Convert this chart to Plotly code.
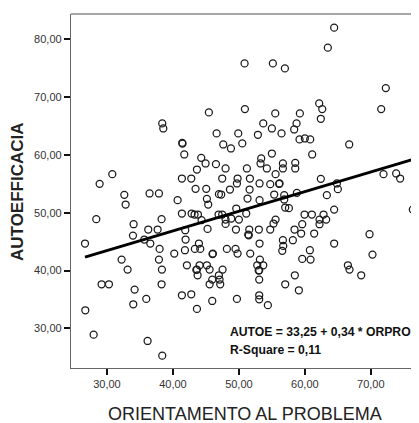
import plotly.graph_objects as go

# ORIENTAMENTO AL PROBLEMA (x) and AUTOEFFICACIA (y)
orpro = [64.44, 63.48, 50.86, 55.15, 56.97, 72.27, 50.91, 45.45, 55.51, 62.17,
         62.63, 71.57, 59.24, 62.42, 38.38, 38.54, 53.69, 55.00, 58.74, 58.38,
         46.62, 49.90, 52.88, 56.46, 50.51, 47.63, 48.79, 41.41, 41.45, 41.72,
         59.19, 60.00, 60.81, 66.72, 55.00, 61.11, 44.29, 44.95, 46.52, 53.38,
         53.28, 56.67, 56.67, 58.54, 58.54, 51.21, 54.24, 43.64, 47.98, 71.92,
         73.84, 74.44, 55.56, 41.36, 42.78, 47.47, 49.80, 51.67, 53.13, 49.70,
         54.75, 56.16, 56.10, 62.42, 64.85, 65.00, 28.89, 30.81, 43.43, 45.05,
         46.97, 47.32, 51.62, 48.64, 32.63, 32.83, 36.46, 37.88, 40.71, 45.15,
         45.35, 51.31, 53.13, 56.87, 56.87, 58.79, 63.33, 55.35, 76.36, 64.44,
         57.02, 57.58, 59.95, 61.06, 62.83, 62.22, 63.23, 62.22, 28.38, 38.28,
         41.36, 42.83, 43.28, 43.79, 44.34, 46.92, 47.47, 47.98, 49.60, 50.00,
         51.11, 48.84, 45.25, 47.98, 51.57, 53.03, 49.55, 54.75, 55.25, 55.56,
         58.43, 59.60, 59.44, 61.41, 41.87, 51.41, 51.50, 34.04, 33.94, 35.66,
         36.26, 37.68, 36.57, 41.92, 43.94, 43.33, 44.14, 37.98, 48.18, 49.49,
         49.80, 41.82, 40.20, 46.06, 46.00, 51.72, 53.13, 56.67, 56.72, 56.57,
         58.18, 60.76, 64.44, 69.80, 70.25, 26.67, 32.22, 33.13, 37.88, 38.33,
         42.12, 43.64, 43.55, 44.04, 43.74, 45.15, 45.56, 47.53, 46.97, 45.96,
         45.56, 47.07, 47.17, 52.78, 53.18, 53.69, 53.08, 53.00, 53.08, 59.60,
         60.86, 58.48, 66.52, 66.77, 68.54, 29.19, 30.30, 38.28, 34.19, 33.99,
         35.96, 41.36, 42.78, 45.96, 49.70, 53.08, 53.08, 54.39, 43.64, 57.02,
         59.09, 26.72, 27.98, 36.16, 38.38]
autoe = [82.02, 78.56, 75.84, 75.84, 74.98, 71.57, 67.93, 67.36, 67.18, 68.91,
         67.93, 67.93, 67.18, 66.26, 65.45, 64.58, 65.45, 64.58, 65.45, 64.41,
         63.72, 63.72, 63.49, 63.72, 61.99, 61.81, 61.12, 62.10, 61.95, 60.08,
         62.68, 62.85, 62.68, 61.81, 60.25, 60.08, 59.50, 58.52, 58.41, 59.39,
         58.52, 58.52, 57.66, 58.64, 57.66, 57.66, 57.66, 57.48, 57.66, 56.67,
         56.79, 55.92, 56.67, 55.92, 55.92, 55.92, 55.92, 55.92, 55.06, 55.06,
         54.94, 55.06, 55.00, 55.87, 55.06, 54.08, 55.00, 56.67, 54.13, 54.13,
         53.21, 53.15, 54.02, 54.02, 53.09, 51.42, 53.33, 53.33, 52.17, 52.40,
         51.42, 52.46, 52.17, 53.04, 52.29, 53.44, 53.04, 53.15, 50.55, 50.55,
         50.90, 50.79, 49.69, 49.69, 49.69, 48.82, 48.82, 48.01, 48.88, 48.88,
         49.86, 49.86, 49.69, 49.69, 48.71, 49.69, 49.69, 48.82, 50.73, 48.82,
         49.86, 49.00, 47.20, 48.07, 47.09, 47.09, 47.09, 47.09, 48.13, 48.82,
         47.09, 48.01, 46.40, 46.40, 46.97, 46.22, 46.10, 48.01, 46.05, 45.36,
         47.09, 47.09, 44.67, 45.36, 44.67, 43.74, 43.74, 43.74, 43.74, 43.74,
         42.93, 43.51, 42.93, 42.93, 42.85, 42.93, 44.67, 45.24, 44.26, 43.40,
         45.24, 43.51, 44.67, 46.28, 42.76, 44.67, 41.89, 40.16, 41.89, 40.16,
         40.91, 40.16, 40.10, 40.91, 39.18, 40.91, 40.16, 40.16, 39.18, 38.43,
         37.62, 38.43, 37.62, 40.91, 41.89, 40.91, 40.05, 40.00, 38.43, 42.01,
         41.89, 39.18, 40.91, 40.16, 39.18, 37.62, 37.62, 37.62, 36.70, 34.16,
         35.08, 35.72, 35.89, 34.73, 35.08, 35.72, 35.02, 34.00, 33.35, 37.62,
         36.58, 33.12, 28.90, 27.81, 25.27]

# fitted line shown in the chart
intercept = 33.25
slope = 0.34

x_ticks = [30, 40, 50, 60, 70]
x_tick_labels = ["30,00", "40,00", "50,00", "60,00", "70,00"]
y_ticks = [30, 40, 50, 60, 70, 80]
y_tick_labels = ["30,00", "40,00", "50,00", "60,00", "70,00", "80,00"]

FONT = "Arial, Liberation Sans, sans-serif"
OFF = 8  # default page body margin
W, H = 419 - OFF, 423 - OFF
L, R, T, B = 71 - OFF, 0, 14 - OFF, 423 - 368
PW, PH = W - L - R, H - T - B

def px(x):  # window pixel -> paper x
    return (x - OFF - L) / PW

def py(y):  # window pixel -> paper y
    return (H - B - (y - OFF)) / PH

fig = go.Figure()
fig.add_trace(go.Scatter(
    x=orpro, y=autoe, mode="markers",
    marker=dict(symbol="circle-open", size=7, color="#1a1a1a", line=dict(width=1.25)),
    showlegend=False, hoverinfo="skip"))

x_lo, x_hi = min(orpro), max(orpro)
fig.add_trace(go.Scatter(
    x=[x_lo, x_hi], y=[intercept + slope * x_lo, intercept + slope * x_hi],
    mode="lines", line=dict(color="black", width=3), showlegend=False, hoverinfo="skip"))

fig.update_layout(
    width=W, height=H,
    margin=dict(l=L, r=R, t=T, b=B),
    paper_bgcolor="white", plot_bgcolor="white",
    font=dict(family=FONT, color="#333"),
    xaxis=dict(range=[24.55, 77.3], tickvals=x_ticks, ticktext=x_tick_labels, automargin=False,
               showgrid=False, zeroline=False, showline=True, linecolor="#666", linewidth=1.3,
               ticks="outside", ticklen=6, tickwidth=2, tickcolor="#111",
               tickfont=dict(size=11, color="#333")),
    yaxis=dict(range=[23.13, 84.39], tickvals=y_ticks, ticktext=y_tick_labels, automargin=False,
               showgrid=False, zeroline=False, showline=True, linecolor="#666", linewidth=1.3,
               ticks="outside", ticklen=6, tickwidth=2, tickcolor="#111",
               tickfont=dict(size=11, color="#333")),
    shapes=[dict(type="line", xref="paper", yref="paper", x0=0, x1=1, y0=1, y1=1,
                 line=dict(color="#888", width=1.5))],
    annotations=[
        dict(xref="paper", yref="paper", x=px(245), y=py(414),
             xanchor="center", yanchor="middle", showarrow=False,
             text="ORIENTAMENTO AL PROBLEMA", font=dict(size=18, color="#222")),
        dict(xref="paper", yref="paper", x=px(18), y=py(192), textangle=-90,
             xanchor="center", yanchor="middle", showarrow=False,
             text="<b>AUTOEFFICACIA</b>", font=dict(size=17, color="#222")),
        dict(xref="paper", yref="paper", x=px(228), y=py(332),
             xanchor="left", yanchor="middle", showarrow=False,
             text="<b>AUTOE = 33,25 + 0,34 * ORPRO</b>", font=dict(size=12.2, color="#111")),
        dict(xref="paper", yref="paper", x=px(228), y=py(350),
             xanchor="left", yanchor="middle", showarrow=False,
             text="<b>R-Square = 0,11</b>", font=dict(size=12.2, color="#111")),
    ],
)

fig.write_html("out.html")
